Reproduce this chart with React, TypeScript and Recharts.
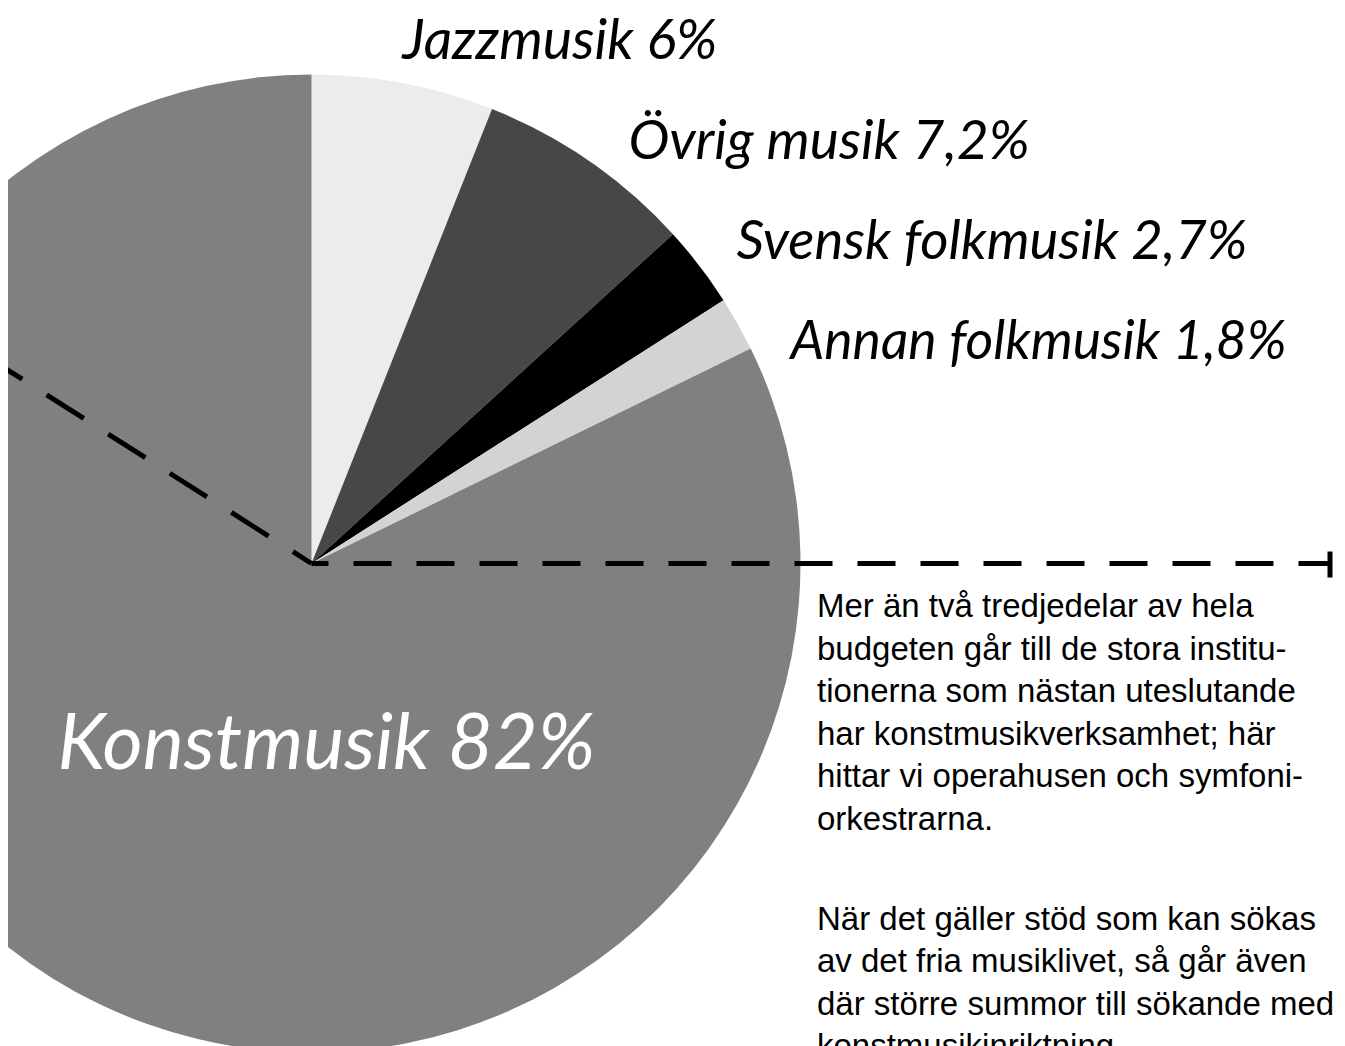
import { PieChart, Pie, Cell } from "recharts";

const CATEGORIES = ["Jazzmusik", "Övrig musik", "Svensk folkmusik", "Annan folkmusik", "Konstmusik"];
const SHARES = [6, 7.2, 2.7, 1.8, 82];
const SHARE_LABELS = ["6%", "7,2%", "2,7%", "1,8%", "82%"];
const COLORS = ["#ececec", "#474747", "#000000", "#d3d3d3", "#808080"];

const data = CATEGORIES.map((name, i) => ({ name, value: SHARES[i], label: SHARE_LABELS[i] }));

const W = 1337;
const H = 1100;
const CX = 303.5;
const CY = 555.5;
const R = 489;

// label anchor offsets from the pie centre (text start, baseline)
const LABEL_POS = [
  { dx: 91, dy: -505, size: 55.5 },
  { dx: 317, dy: -405, size: 55 },
  { dx: 425, dy: -305, size: 54.5 },
  { dx: 479, dy: -205, size: 53.5 },
  { dx: -254, dy: 205, size: 77.5 },
];

const LABEL_FONT = "Lato, 'Open Sans', sans-serif";

function renderLabel(props: any) {
  const { cx, cy, index, payload } = props;
  const p = LABEL_POS[index];
  return (
    <text
      x={cx + p.dx}
      y={cy + p.dy}
      textAnchor="start"
      fontFamily={LABEL_FONT}
      fontStyle="italic"
      fontSize={p.size}
      fill={index === 4 ? "#ffffff" : "#000000"}
    >
      {`${payload.name} ${payload.label}`}
    </text>
  );
}

function DashedGuides() {
  // diagonal runs from the centre out to the upper left, horizontal to the right
  const ang = Math.atan2(193, 303);
  const len1 = 520;
  const x0 = CX - len1 * Math.cos(ang);
  const y0 = CY - len1 * Math.sin(ang);
  const xEnd = 1322;
  return (
    <svg width={W} height={H} style={{ position: "absolute", left: 0, top: 0 }}>
      <path
        d={`M${CX},${CY} L${x0},${y0}`}
        fill="none"
        stroke="#000"
        strokeWidth={5}
        strokeDasharray="44 29"
        strokeDashoffset={22}
      />
      <path
        d={`M${CX},${CY} L${xEnd},${CY}`}
        fill="none"
        stroke="#000"
        strokeWidth={5}
        strokeDasharray="38 25"
        strokeDashoffset={21}
      />
      <line x1={xEnd} y1={CY - 12} x2={xEnd} y2={CY + 14} stroke="#000" strokeWidth={5} />
    </svg>
  );
}

export default function App() {
  return (
    <div style={{ position: "relative", width: W, height: 1038, overflow: "hidden", background: "#fff" }}>
      <div style={{ position: "absolute", left: 0, top: 0 }}>
        <PieChart width={W} height={H} margin={{ top: 0, right: 0, bottom: 0, left: 0 }}>
          <Pie
            data={data}
            dataKey="value"
            nameKey="name"
            cx={CX}
            cy={CY}
            innerRadius={0}
            outerRadius={R}
            startAngle={90}
            endAngle={-270}
            stroke="none"
            label={renderLabel}
            labelLine={false}
            isAnimationActive={false}
          >
            {data.map((_, i) => (
              <Cell key={i} fill={COLORS[i]} />
            ))}
          </Pie>
        </PieChart>
      </div>
      <DashedGuides />
      <div
        style={{
          position: "absolute",
          left: 809,
          top: 577,
          width: 528,
          fontFamily: "'Liberation Sans', Arial, sans-serif",
          fontSize: 33,
          lineHeight: "42.5px",
          color: "#000",
          whiteSpace: "nowrap",
        }}
      >
        <div>
          Mer än två tredjedelar av hela<br />
          budgeten går till de stora institu-<br />
          tionerna som nästan uteslutande<br />
          har konstmusikverksamhet; här<br />
          hittar vi operahusen och symfoni-<br />
          orkestrarna.
        </div>
        <div style={{ marginTop: 57.5 }}>
          När det gäller stöd som kan sökas<br />
          av det fria musiklivet, så går även<br />
          där större summor till sökande med<br />
          konstmusikinriktning.
        </div>
      </div>
    </div>
  );
}
